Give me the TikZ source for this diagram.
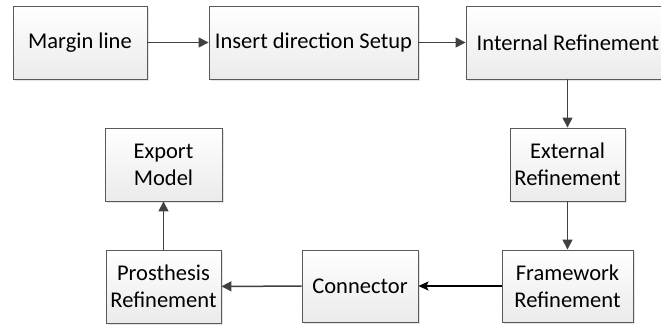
\documentclass[tikz,border=0pt]{standalone}
\usepackage{fontspec}
\setmainfont{Carlito}
\usetikzlibrary{arrows.meta,shadows}

\tikzset
{%方框与箭头样式
  stage/.style={draw=black!65,line width=0.9pt,top color=white,bottom color=black!8,
    align=center,inner sep=2pt,font=\fontsize{22.5}{27}\selectfont,
    drop shadow={shadow xshift=2pt,shadow yshift=-2pt,opacity=0.3,fill=black!35}},
  flow/.style={draw=black!75,line width=1.5pt,-{Triangle[length=10pt,width=10pt]}},
}

\begin{document}
\begin{tikzpicture}[x=1pt,y=1pt]
\useasboundingbox (0,0) rectangle (661,325);

\node[stage,minimum width=134,minimum height=73] (margin) at (80,282.5) {Margin line};
\node[stage,minimum width=209,minimum height=73] (insert) at (313.5,282.5) {Insert direction Setup};
\node[stage,minimum width=204,minimum height=73] (internal) at (568,282.5) {Internal Refinement};
\node[stage,minimum width=115,minimum height=73] (external) at (567.5,160.5) {External\\Refinement};
\node[stage,minimum width=131,minimum height=72] (framework) at (567.5,39) {Framework\\Refinement};
\node[stage,minimum width=116,minimum height=72] (connector) at (360,39) {Connector};
\node[stage,minimum width=115,minimum height=73] (prosthesis) at (163.5,38.5) {Prosthesis\\Refinement};
\node[stage,minimum width=117,minimum height=73] (export) at (163.5,160.5) {Export\\Model};

\path[flow] (margin) -- (insert);
\path[flow] (insert) -- (internal);
\path[flow] (internal.south -| external) -- (external);
\path[flow] (external) -- (framework);
\path[draw,black,line width=1.1pt,-{Stealth[length=10pt,width=9pt,inset=2pt]}] (framework) -- (connector);
\path[flow] (connector) -- (prosthesis);
\path[flow] (prosthesis) -- (export);
\end{tikzpicture}
\end{document}
